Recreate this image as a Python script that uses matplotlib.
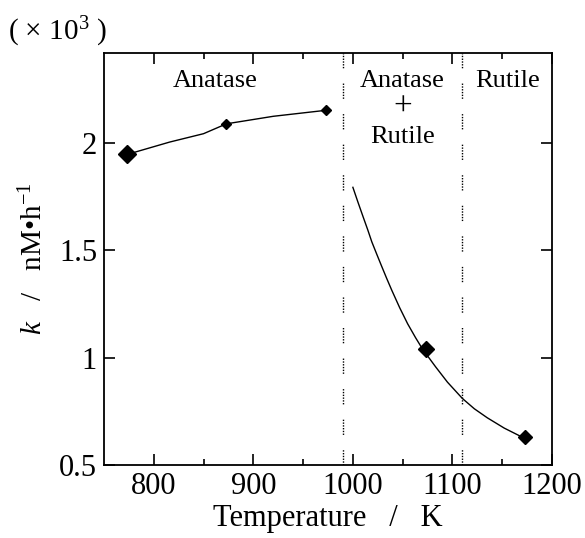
import matplotlib
matplotlib.use("Agg")
import matplotlib.pyplot as plt
from matplotlib.ticker import FixedLocator

plt.rcParams['font.family'] = ['Liberation Serif', 'DejaVu Serif']
plt.rcParams['mathtext.fontset'] = 'custom'
plt.rcParams['mathtext.rm'] = 'Liberation Serif'
plt.rcParams['mathtext.it'] = 'Liberation Serif:italic'

# data points (temperature K, k x10^3 nM/h)
pt_temp = [773, 873, 973, 1073, 1173]
pt_k = [1.947, 2.09, 2.153, 1.04, 0.63]
pt_size = [9, 5, 5, 8, 7]

# fitted curve in anatase region
anatase_temp = [773, 816, 850, 873, 920, 973]
anatase_k = [1.947, 2.005, 2.044, 2.09, 2.125, 2.153]

# fitted curve in mixed / rutile region
decay_temp = [1000, 1005, 1010, 1015, 1019, 1024, 1029, 1034, 1039, 1047, 1055, 1063, 1070,
              1083, 1095, 1110, 1122, 1135, 1152, 1170]
decay_k = [1.794, 1.726, 1.66, 1.595, 1.54, 1.482, 1.425, 1.369, 1.315, 1.233, 1.158, 1.093, 1.04,
           0.958, 0.886, 0.81, 0.762, 0.720, 0.672, 0.630]

phase_bounds = [990, 1110]
x_ticks = [800, 900, 1000, 1100, 1200]
x_minor = [850, 950, 1050, 1150]
y_ticks = [0.5, 1, 1.5, 2]
y_ticklabels = ['0.5', '1', '1.5', '2']

fig = plt.figure(figsize=(5.85, 5.38), dpi=100)
ax = fig.add_axes([104/585, 1-465/538, (552-104)/585, (465-53)/538])

ax.plot(anatase_temp, anatase_k, color='black', lw=1.0)
ax.plot(decay_temp, decay_k, color='black', lw=1.0)
for t, k, s in zip(pt_temp, pt_k, pt_size):
    ax.plot([t], [k], marker='D', ms=s, color='black', lw=0)

for b in phase_bounds:
    ax.axvline(b, color='black', lw=1.0, linestyle=(0, (1, 1, 1, 1, 1, 1, 1, 1, 1, 1, 1, 11)))

ax.set_xlim(750, 1200)
ax.set_ylim(0.5, 2.42)
ax.xaxis.set_major_locator(FixedLocator(x_ticks))
ax.xaxis.set_minor_locator(FixedLocator(x_minor))
ax.set_yticks(y_ticks)
ax.set_yticklabels(y_ticklabels)
ax.tick_params(axis='both', which='major', direction='in', length=8, width=1.2,
               top=True, right=True, labelsize=22, pad=5)
ax.tick_params(axis='x', which='minor', direction='in', length=4, width=1.2, top=True)
for sp in ax.spines.values():
    sp.set_linewidth(1.3)

ax.set_xlabel('Temperature   /   K', fontsize=22, labelpad=2)
ax.set_ylabel('$k$   /   nM\u2022h$^{-1}$', fontsize=21, labelpad=8)

fs = 19
ax.text(862, 2.29, 'Anatase', ha='center', va='center', fontsize=fs)
ax.text(1050, 2.29, 'Anatase', ha='center', va='center', fontsize=fs)
ax.text(1050, 2.165, '+', ha='center', va='center', fontsize=24)
ax.text(1050, 2.03, 'Rutile', ha='center', va='center', fontsize=fs)
ax.text(1155, 2.29, 'Rutile', ha='center', va='center', fontsize=fs)

fig.text(8/585, 1-32/538, r'( $\times$ 10$^3$ )', ha='left', va='center', fontsize=21)

fig.savefig('out.png', dpi=100)
